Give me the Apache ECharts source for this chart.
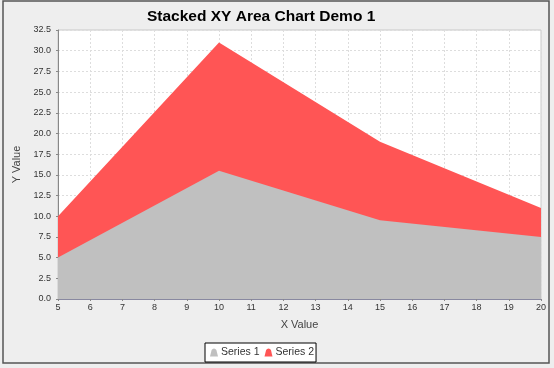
<!DOCTYPE html>
<html><head><meta charset="utf-8">
<script src="https://cdn.jsdelivr.net/npm/echarts@6/dist/echarts.min.js"></script>
<style>html,body{margin:0;padding:0;background:#fff}#c{width:554px;height:368px}</style>
</head><body><div id="c"></div>
<script>
const xValues = [5, 10, 15, 20];
const series1 = [5, 15.5, 9.5, 7.5];
const series2 = [5, 15.5, 9.5, 3.5];
const seriesNames = ['Series 1', 'Series 2'];
const colors = ['#c0c0c0', '#ff5555'];

// stacked totals computed from the series arrays (series 2 sits on top of series 1)
const totals = series1.map((v, i) => v + series2[i]);

const chart = echarts.init(document.getElementById('c'), null, {renderer: 'canvas'});
const iconPath = 'path://M0,10 L2,2 Q3,0 5,0 Q7,0 8,2 L10,10 Z';
const mk = (name, vals, color, z) => ({
  name: name, type: 'line', z: z,
  data: xValues.map((x, i) => [x, vals[i]]),
  symbol: 'none', lineStyle: {width: 0}, itemStyle: {color: color},
  areaStyle: {color: color, opacity: 1, origin: 'start'}, silent: true
});
const font = 'Liberation Sans, Arial';
chart.setOption({
  backgroundColor: '#eeeeee',
  animation: false,
  title: {text: 'Stacked XY Area Chart Demo 1', left: 142, top: 4,
    textStyle: {fontFamily: font, fontWeight: 'bold', fontSize: 15.5, color: '#000'}},
  graphic: [{type: 'rect', shape: {x: 3, y: 1, width: 546, height: 362}, silent: true,
    style: {fill: 'none', stroke: '#555', lineWidth: 1.5}, z: -1}],
  legend: {data: seriesNames.map(n => ({name: n, icon: iconPath})), bottom: 6, left: 205,
    itemWidth: 8, itemHeight: 8, itemGap: 5, padding: [4, 2, 4, 5],
    borderColor: '#000', borderWidth: 1, backgroundColor: '#fff', borderRadius: 0,
    textStyle: {fontFamily: font, fontSize: 10.5, color: '#333', padding: [0,0,0,-2]}},
  grid: {left: 58, right: 13, top: 30, bottom: 69, show: true, backgroundColor: '#fff', borderColor: '#c8c8c8', borderWidth: 1},
  xAxis: {type: 'value', min: 5, max: 20, interval: 1, name: 'X Value', nameLocation: 'middle', nameGap: 20,
    nameTextStyle: {fontFamily: font, fontSize: 11, color: '#444'},
    axisLine: {lineStyle: {color: '#8888a0'}}, axisTick: {show: true, length: 2, lineStyle: {color: '#888'}},
    axisLabel: {fontFamily: font, fontSize: 9, color: '#333', margin: 4},
    splitLine: {show: true, lineStyle: {color: '#dddddd', type: [2, 2], width: 1}}},
  yAxis: {type: 'value', min: 0, max: 32.5, interval: 2.5, name: 'Y Value', nameLocation: 'middle', nameGap: 33,
    nameTextStyle: {fontFamily: font, fontSize: 11, color: '#444'},
    axisLine: {show: true, lineStyle: {color: '#888'}}, axisTick: {show: true, length: 2, lineStyle: {color: '#888'}},
    axisLabel: {fontFamily: font, fontSize: 9, color: '#333', margin: 7, formatter: v => v.toFixed(1)},
    splitLine: {show: true, lineStyle: {color: '#dddddd', type: [2, 2], width: 1}}},
  series: [mk(seriesNames[1], totals, colors[1], 2), mk(seriesNames[0], series1, colors[0], 3)]
});
</script></body></html>
